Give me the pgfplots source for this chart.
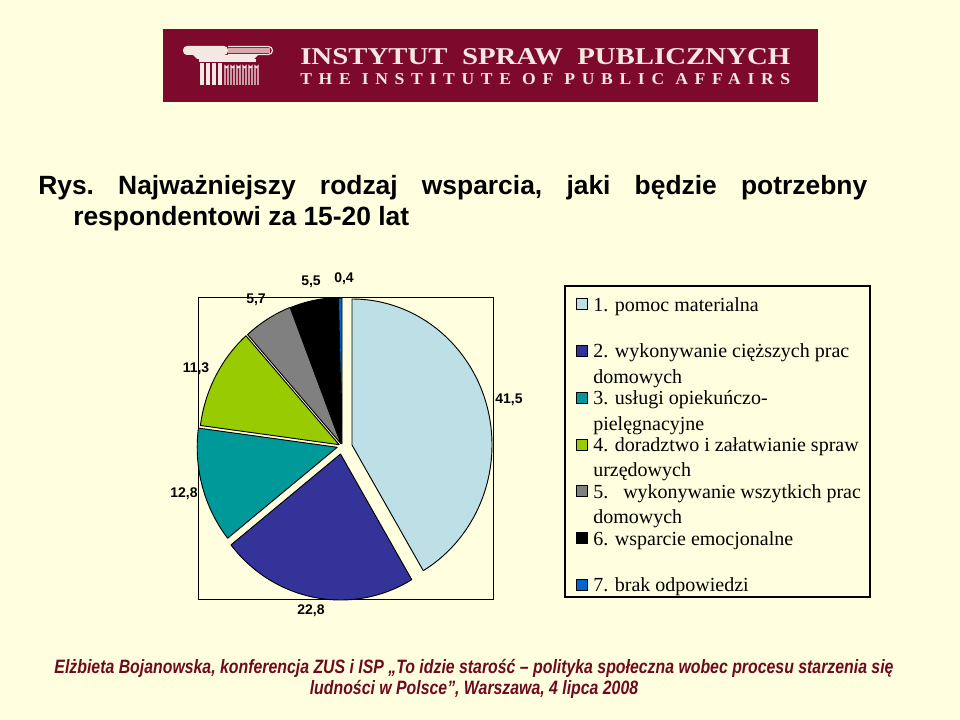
\documentclass[border=0pt]{standalone}
\usepackage{pgfplots}
\pgfplotsset{compat=1.18}
\usepackage{pgfplotstable}
\usepackage{fontspec}
\setmainfont{Liberation Serif}
\newfontfamily\arial{Liberation Sans}
\newfontfamily\arialn[FakeStretch=0.82]{Liberation Sans}
\newfontfamily\tnr{Liberation Serif}
\newfontfamily\tnrspaced[LetterSpace=38]{Liberation Serif}
\definecolor{bg}{HTML}{FFFFDF}
\definecolor{logo}{HTML}{7D0A2C}
\definecolor{logotext}{HTML}{F4E8E2}
\definecolor{logopink}{HTML}{D9A8AE}
\definecolor{foot}{HTML}{6E0A1E}
\definecolor{c0}{HTML}{BCE0E6}
\definecolor{c1}{HTML}{333399}
\definecolor{c2}{HTML}{009999}
\definecolor{c3}{HTML}{99CC00}
\definecolor{c4}{HTML}{808080}
\definecolor{c5}{HTML}{000000}
\definecolor{c6}{HTML}{0066CC}
\pgfplotstableread{
val dx dy
41.5 10 1
22.8 -1.5 -8
12.8 -4.8 -1.3
11.3 -2.8 1.3
5.7 -1.2 2.5
5.5 -0.5 2.5
0.4 0 2
}\piedata
\begin{document}
\begin{tikzpicture}
\begin{scope}[x=0.75pt,y=-0.75pt]
\fill[bg] (0,0) rectangle (960,720);
% logo banner
\fill[logo] (163,29) rectangle (818,102);
% column icon
\fill[logotext, rounded corners=3pt] (183,46) rectangle (228,55);
\draw[logotext, line width=0.9pt, rounded corners=3pt] (228,46.5) -- (272.5,46.5) -- (272.5,54.5) -- (228,54.5);
\fill[logopink] (228,48.5) rectangle (270,53);
\fill[logotext] (193,55) -- (258,55) -- (254,59) -- (197,59) -- cycle;
\fill[logotext] (199,59.5) rectangle (256,62);
\foreach \xx in {200,206,212,218} {\fill[logotext] (\xx,63) rectangle (\xx+4,85);}
\foreach \xx in {225,231,237,243,249,255} {\draw[logotext, line width=1pt] (\xx,85) -- (\xx,66) arc[start angle=180, end angle=0, radius=1.5] -- (\xx+3,85);}
\node[anchor=south west, inner sep=0, text=logotext] at (300,65) {\resizebox{367.5pt}{12pt}{\tnr\bfseries INSTYTUT\ \ SPRAW\ \ PUBLICZNYCH}};
\node[anchor=south west, inner sep=0, text=logotext] at (300,85) {\resizebox{367.5pt}{8.25pt}{\tnrspaced\bfseries THE\ INSTITUTE\ OF\ PUBLIC\ AFFAIRS}};
% title
\node[anchor=base west, inner sep=0, font=\arial\bfseries\fontsize{19.8pt}{23pt}\selectfont] at (38,195) {\makebox[621.75pt][l]{Rys.\hfill Najważniejszy\hfill rodzaj\hfill wsparcia,\hfill jaki\hfill będzie\hfill potrzebny}};
\node[anchor=base west, inner sep=0, font=\arial\bfseries\fontsize{19.8pt}{23pt}\selectfont] at (73,226) {respondentowi za 15-20 lat};
% pie value labels
\begin{scope}[every node/.style={font=\arial\bfseries\fontsize{10.5pt}{12pt}\selectfont, inner sep=0}]
\node at (509,400) {41,5};
\node at (311,611) {22,8};
\node at (184,494) {12,8};
\node at (196,369) {11,3};
\node at (256,300) {5,7};
\node at (311,282) {5,5};
\node at (344,279) {0,4};
\end{scope}
% legend
\draw[line width=0.9pt] (565,286) rectangle (870,597);
\begin{scope}[every node/.style={font=\tnr\fontsize{15pt}{18pt}\selectfont, inner sep=0, anchor=base west}]
\foreach \k/\col in {0/c0,1/c1,2/c2,3/c3,4/c4,5/c5,6/c6} {
  \pgfmathsetmacro\cy{304+46.8*\k}
  \filldraw[fill=\col, draw=black, line width=0.6pt] (576,\cy-5.5) rectangle (587,\cy+5.5);
}
\node at (593,311) {1. pomoc materialna};
\node at (593,357.8) {2. wykonywanie cięższych prac};
\node at (593,383.3) {domowych};
\node at (593,404.6) {3. usługi opiekuńczo-};
\node at (593,430.1) {pielęgnacyjne};
\node at (593,451.4) {4. doradztwo i załatwianie spraw};
\node at (593,476.9) {urzędowych};
\node at (593,498.2) {5.\ \ \ wykonywanie wszytkich prac};
\node at (593,523.7) {domowych};
\node at (593,545) {6. wsparcie emocjonalne};
\node at (593,591.8) {7. brak odpowiedzi};
\end{scope}
% footer
\begin{scope}[every node/.style={font=\arialn\bfseries\itshape\fontsize{14.5pt}{17pt}\selectfont, text=foot, inner sep=0, anchor=base}]
\node at (474,673) {Elżbieta Bojanowska, konferencja ZUS i ISP „To idzie starość – polityka społeczna wobec procesu starzenia się};
\node at (474,694) {ludności w Polsce”, Warszawa, 4 lipca 2008};
\end{scope}
\end{scope}
\begin{axis}[at={(148.5pt,-449.25pt)}, anchor=south west,
  x=0.75pt, y=0.75pt, xmin=-144, xmax=151, ymin=-153, ymax=149,
  xtick=\empty, ytick=\empty, axis line style={line width=0.7pt},
  clip=false]
\xdef\cum{0}
\pgfplotsforeachungrouped \i in {0,...,6}{%
  \pgfplotstablegetelem{\i}{val}\of\piedata \let\v=\pgfplotsretval
  \pgfplotstablegetelem{\i}{dx}\of\piedata \let\ox=\pgfplotsretval
  \pgfplotstablegetelem{\i}{dy}\of\piedata \let\oy=\pgfplotsretval
  \pgfmathsetmacro\sa{90-3.6*\cum}%
  \pgfmathsetmacro\ea{90-3.6*(\cum+\v)}%
  \pgfmathsetmacro\px{\ox+140*cos(\sa)}%
  \pgfmathsetmacro\py{\oy+146*sin(\sa)}%
  \edef\cmd{\noexpand\filldraw[fill=c\i, draw=black, line width=0.7pt, line join=round] (axis cs:\ox,\oy) -- (axis cs:\px,\py) arc[start angle=\sa, end angle=\ea, x radius=105pt, y radius=109.5pt] -- cycle;}%
  \cmd
  \pgfmathsetmacro\newcum{\cum+\v}%
  \xdef\cum{\newcum}%
}
\end{axis}
\end{tikzpicture}
\end{document}
